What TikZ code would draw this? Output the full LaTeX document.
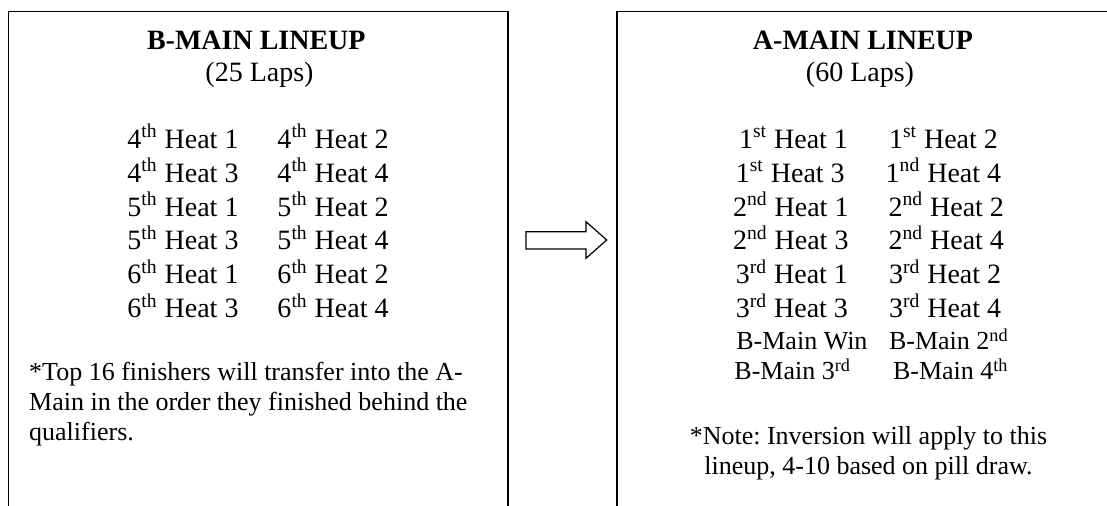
\documentclass[tikz,border=0pt]{standalone}
\usepackage{fontspec}
\setmainfont{Liberation Serif}
\frenchspacing
\begin{document}
\begin{tikzpicture}[x=0.5pt,y=-0.5pt,line width=0.6pt,
  head/.style={anchor=base,inner sep=0pt,font=\fontsize{14pt}{17pt}\selectfont\bfseries},
  laps/.style={anchor=base,inner sep=0pt,font=\fontsize{14pt}{17pt}\selectfont},
  row/.style={anchor=base,inner sep=0pt,font=\fontsize{14pt}{17pt}\selectfont},
  brow/.style={anchor=base,inner sep=0pt,font=\fontsize{13pt}{15pt}\selectfont},
  note/.style={inner sep=0pt,font=\fontsize{13pt}{15.15pt}\selectfont}]
\clip (0,0) rectangle (1107,506);
% boxes (open at the bottom, right one runs off the page)
\draw (8.5,530) -- (8.5,11.5) -- (508,11.5) -- (508,530);
\draw (617,530) -- (617,11.5) -- (1130,11.5);

% block arrow
\draw (526,231.7) -- (586,231.7) -- (586,221.7) -- (606.7,240)
      -- (586,258.3) -- (586,249) -- (526,249) -- cycle;

% B-main
\node[head] (bHead) at (256.3,49.3) {B-MAIN LINEUP};
\node[laps] (bLaps) at (259.5,81.7) {(25 Laps)};
\node[row] (b1) at (258,148.3) {4\textsuperscript{th} Heat 1\hspace{19.5pt}4\textsuperscript{th} Heat 2};
\node[row] (b2) at (258,182.2) {4\textsuperscript{th} Heat 3\hspace{19.5pt}4\textsuperscript{th} Heat 4};
\node[row] (b3) at (258,216.1) {5\textsuperscript{th} Heat 1\hspace{19.5pt}5\textsuperscript{th} Heat 2};
\node[row] (b4) at (258,250) {5\textsuperscript{th} Heat 3\hspace{19.5pt}5\textsuperscript{th} Heat 4};
\node[row] (b5) at (258,283.9) {6\textsuperscript{th} Heat 1\hspace{19.5pt}6\textsuperscript{th} Heat 2};
\node[row] (b6) at (258,317.8) {6\textsuperscript{th} Heat 3\hspace{19.5pt}6\textsuperscript{th} Heat 4};
% base anchor of a multi-line node sits on its last line
\node[note,anchor=base west,align=left] (bNote) at (28.6,440.7)
  {*Top 16 finishers will transfer into the A-\\
   Main in the order they finished behind the\\
   qualifiers.};

% A-main
\node[head] (aHead) at (863,49.3) {A-MAIN LINEUP};
\node[laps] (aLaps) at (860,81.7) {(60 Laps)};
\node[row] (a1) at (868.5,148.3) {1\textsuperscript{st} Heat 1\hspace{20.5pt}1\textsuperscript{st} Heat 2};
\node[row] (a2) at (868.5,182.2) {1\textsuperscript{st} Heat 3\hspace{20.5pt}1\textsuperscript{nd} Heat 4};
\node[row] (a3) at (868.5,216.1) {2\textsuperscript{nd} Heat 1\hspace{20pt}2\textsuperscript{nd} Heat 2};
\node[row] (a4) at (868.5,250) {2\textsuperscript{nd} Heat 3\hspace{20pt}2\textsuperscript{nd} Heat 4};
\node[row] (a5) at (868.5,283.9) {3\textsuperscript{rd} Heat 1\hspace{20.5pt}3\textsuperscript{rd} Heat 2};
\node[row] (a6) at (868.5,317.8) {3\textsuperscript{rd} Heat 3\hspace{20.5pt}3\textsuperscript{rd} Heat 4};
\node[brow] (a7) at (872.5,350) {B-Main Win\hspace{10.8pt}B-Main 2\textsuperscript{nd}};
\node[brow] (a8) at (871.5,380) {B-Main 3\textsuperscript{rd}\hspace{21pt}B-Main 4\textsuperscript{th}};
\node[note,anchor=base,align=center] (aNote) at (868.5,475)
  {*Note: Inversion will apply to this\\
   lineup, 4-10 based on pill draw.};
\end{tikzpicture}
\end{document}
